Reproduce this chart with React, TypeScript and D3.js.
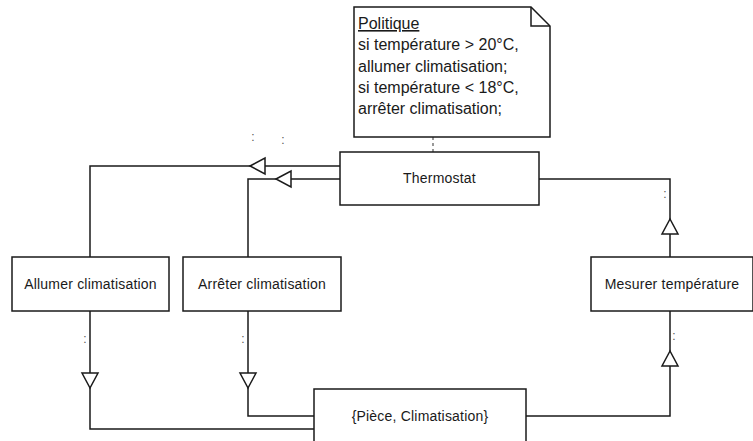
import React, { useEffect, useRef } from 'react';
import * as d3 from 'd3';

// note content
const noteTitle = 'Politique';
const noteLines = [
  'si température > 20°C,',
  'allumer climatisation;',
  'si température < 18°C,',
  'arrêter climatisation;',
];

// boxes of the diagram
const nodeIds = ['thermo', 'allumer', 'arreter', 'mesurer', 'piece'];
const nodeLabels = [
  'Thermostat',
  'Allumer climatisation',
  'Arrêter climatisation',
  'Mesurer température',
  '{Pièce, Climatisation}',
];

// connections: source, target, label
const edgeSources = ['thermo', 'thermo', 'thermo', 'allumer', 'arreter', 'mesurer'];
const edgeTargets = ['allumer', 'arreter', 'mesurer', 'piece', 'piece', 'piece'];
const edgeLabels = [':', ':', ':', ':', ':', ':'];

// layout (pixel positions of the boxes and routes)
const layout = {
  note: { x: 354, y: 7, w: 196, h: 130, fold: 19 },
  boxes: {
    thermo: { x: 340, y: 152, w: 199, h: 53 },
    allumer: { x: 12, y: 257, w: 157, h: 54 },
    arreter: { x: 183, y: 257, w: 158, h: 54 },
    mesurer: { x: 591, y: 257, w: 162, h: 54 },
    piece: { x: 314, y: 389, w: 212, h: 60 },
  },
  routes: [
    { pts: [[340, 166], [90, 166], [90, 257]], tip: [250, 166], dir: 'left', lbl: [253, 141] },
    { pts: [[340, 179], [248, 179], [248, 257]], tip: [276, 179], dir: 'left', lbl: [283, 144] },
    { pts: [[539, 179], [670, 179], [670, 257]], tip: [670, 219], dir: 'up', lbl: [665, 198] },
    { pts: [[90, 311], [90, 429], [314, 429]], tip: [90, 388], dir: 'down', lbl: [85, 343] },
    { pts: [[248, 311], [248, 416], [314, 416]], tip: [248, 388], dir: 'down', lbl: [243, 343] },
    { pts: [[670, 311], [670, 416], [526, 416]], tip: [670, 351], dir: 'up', lbl: [674, 340] },
  ],
};

const FONT = '"Liberation Sans", Arial, sans-serif';
const INK = '#1a1a1a';

const App = () => {
  const svgRef = useRef<SVGSVGElement>(null);

  useEffect(() => {
    const svg = d3.select(svgRef.current);
    svg.selectAll('*').remove();

    const line = d3.line();

    // edges first so boxes sit on top
    const edges = svg.append('g');
    edgeSources.forEach((src, i) => {
      const r = layout.routes[i];
      edges.append('path')
        .attr('d', line(r.pts as [number, number][]))
        .attr('fill', 'none')
        .attr('stroke', INK)
        .attr('stroke-width', 1.5);

      // hollow triangle head
      const [tx, ty] = r.tip;
      const len = 15;
      const half = 8;
      let tri: [number, number][];
      if (r.dir === 'left') tri = [[tx, ty], [tx + len, ty - half], [tx + len, ty + half]];
      else if (r.dir === 'up') tri = [[tx, ty], [tx - half, ty + len], [tx + half, ty + len]];
      else tri = [[tx, ty], [tx - half, ty - len], [tx + half, ty - len]];
      edges.append('path')
        .attr('d', line(tri) + 'Z')
        .attr('fill', '#fff')
        .attr('stroke', INK)
        .attr('stroke-width', 1.5);

      edges.append('text')
        .attr('x', r.lbl[0])
        .attr('y', r.lbl[1])
        .attr('text-anchor', 'middle')
        .style('font-family', FONT)
        .style('font-size', '12px')
        .style('fill', '#555')
        .text(edgeLabels[i]);
      void edgeTargets[i];
    });

    // note to thermostat dashed link
    const n = layout.note;
    svg.append('line')
      .attr('x1', 433).attr('x2', 433)
      .attr('y1', n.y + n.h).attr('y2', layout.boxes.thermo.y)
      .attr('stroke', '#555')
      .attr('stroke-width', 1.2)
      .attr('stroke-dasharray', '3,3');

    // note with folded corner
    const notePts: [number, number][] = [
      [n.x, n.y], [n.x + n.w - n.fold, n.y], [n.x + n.w, n.y + n.fold],
      [n.x + n.w, n.y + n.h], [n.x, n.y + n.h],
    ];
    svg.append('path')
      .attr('d', line(notePts) + 'Z')
      .attr('fill', '#fff')
      .attr('stroke', INK)
      .attr('stroke-width', 1.5);
    const foldPts: [number, number][] = [
      [n.x + n.w - n.fold, n.y], [n.x + n.w - n.fold, n.y + n.fold], [n.x + n.w, n.y + n.fold],
    ];
    svg.append('path')
      .attr('d', line(foldPts))
      .attr('fill', 'none')
      .attr('stroke', INK)
      .attr('stroke-width', 1.5);

    const noteText = svg.append('g').style('font-family', FONT).style('font-size', '16px').style('fill', INK);
    noteText.append('text')
      .attr('x', n.x + 4).attr('y', n.y + 22)
      .style('text-decoration', 'underline')
      .text(noteTitle);
    noteLines.forEach((t, i) => {
      noteText.append('text')
        .attr('x', n.x + 4)
        .attr('y', n.y + 22 + (i + 1) * 21.3)
        .text(t);
    });

    // boxes
    const boxG = svg.append('g');
    nodeIds.forEach((id, i) => {
      const b = (layout.boxes as any)[id];
      boxG.append('rect')
        .attr('x', b.x).attr('y', b.y)
        .attr('width', b.w).attr('height', b.h)
        .attr('fill', '#fff')
        .attr('stroke', INK)
        .attr('stroke-width', 1.5);
      const cy = id === 'piece' ? b.y + 27 : b.y + b.h / 2;
      boxG.append('text')
        .attr('x', b.x + b.w / 2)
        .attr('y', cy)
        .attr('dy', '0.35em')
        .attr('text-anchor', 'middle')
        .style('font-family', FONT)
        .style('font-size', '14px')
        .style('letter-spacing', '0.2px')
        .style('fill', INK)
        .text(nodeLabels[i]);
    });
  }, []);

  return (
    <svg
      ref={svgRef}
      width={753}
      height={441}
      style={{ position: 'absolute', left: 0, top: 0, background: '#fff' }}
    />
  );
};

export default App;
